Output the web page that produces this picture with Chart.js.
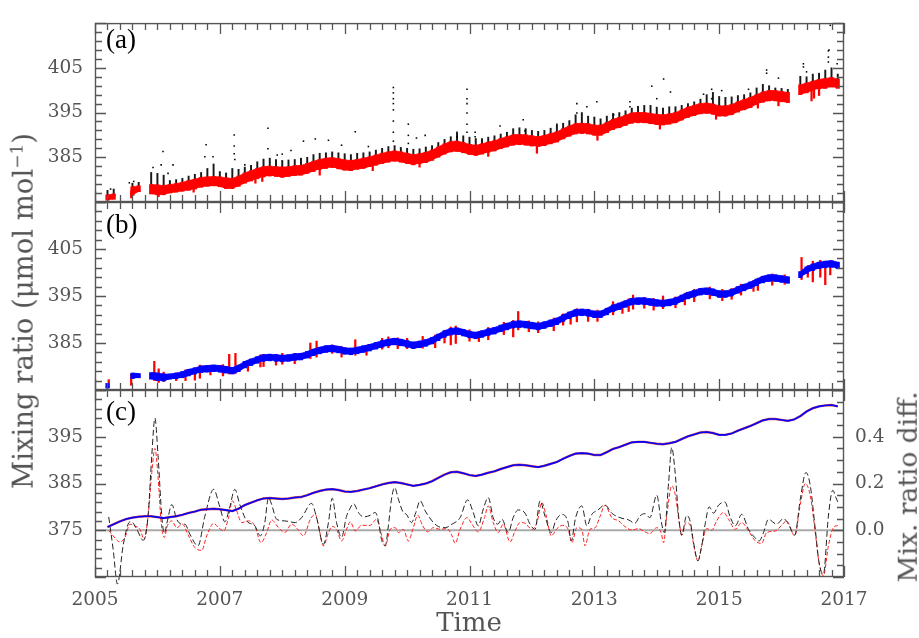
<!DOCTYPE html>
<html>
<head>
<meta charset="utf-8">
<script src="https://cdn.jsdelivr.net/npm/chart.js@4.4.1/dist/chart.umd.min.js"></script>
<style>
  body { margin: 0; background: #fff; }
  #wrap { position: relative; width: 919px; height: 638px; overflow: hidden; }
  #wrap canvas { position: absolute; left: 0; top: 0; }
  .vlab { position: absolute; transform: translate(-50%, -50%) rotate(-90deg); white-space: nowrap;
          font: 27.5px "DejaVu Serif"; line-height: 1; color: #555; }
  .vlab.r { font-size: 26.5px; }
  .vlab sup { font-size: 0.62em; }
  .hlab { position: absolute; transform: translate(-50%, -50%); white-space: nowrap;
          font: 26px "DejaVu Serif"; line-height: 1; color: #555; }
  .plab { position: absolute; font: 27px "Liberation Serif"; line-height: 1; color: #000; }
</style>
</head>
<body>
<div id="wrap">
  <canvas id="panelA" width="919" height="638"></canvas>
  <canvas id="panelB" width="919" height="638"></canvas>
  <canvas id="panelC" width="919" height="638"></canvas>
  <div class="plab" style="left:106px;top:26px">(a)</div>
  <div class="plab" style="left:106px;top:211px">(b)</div>
  <div class="plab" style="left:106px;top:398px">(c)</div>
  <div class="vlab" style="left:23px;top:311px">Mixing ratio (μmol mol<sup>−1</sup>)</div>
  <div class="vlab r" style="left:908px;top:487px">Mix. ratio diff.</div>
  <div class="hlab" style="left:469px;top:622px">Time</div>
</div>
<script>
// tick labels
const xTickLabels = [2005, 2007, 2009, 2011, 2013, 2015, 2017];
const yTicksAB = [385, 395, 405];
const yTicksC = [375, 385, 395];
const diffTicks = [0.0, 0.2, 0.4];

// panel (a): [year, red low, red high, black top]
const bandA = [
  [2005.2,375.4,376.6,377.6],[2005.3,375.6,376.8,377.9],[2005.6,376.5,378.4,379.2],[2005.7,377.3,378.6,379.4],
  [2005.9,376.8,378.9,381.6],[2006.0,376.6,378.8,381.4],[2006.1,376.6,378.7,381.0],[2006.2,377.0,378.9,379.8],
  [2006.3,377.2,379.1,380.0],[2006.4,377.4,379.4,380.3],[2006.5,377.6,379.8,380.8],[2006.6,377.9,380.1,381.2],
  [2006.7,378.3,380.5,381.6],[2006.8,378.5,380.6,382.5],[2006.9,378.6,380.7,383.5],[2007.0,378.4,380.6,381.8],
  [2007.1,378.0,380.4,381.5],[2007.2,378.0,380.3,382.5],[2007.3,378.5,380.8,382.3],[2007.4,379.2,381.5,382.8],
  [2007.5,379.7,382.0,383.2],[2007.6,380.2,382.5,384.0],[2007.7,380.6,382.9,384.6],[2007.8,380.8,383.0,384.8],
  [2007.9,380.7,382.9,384.5],[2008.0,380.5,382.8,384.3],[2008.1,380.7,382.9,384.4],[2008.2,380.9,383.1,384.5],
  [2008.3,381.0,383.2,384.8],[2008.4,381.4,383.6,385.0],[2008.5,381.8,384.1,385.6],[2008.6,382.3,384.5,385.9],
  [2008.7,382.5,384.8,386.0],[2008.8,382.7,384.9,386.2],[2008.9,382.4,384.7,386.0],[2009.0,382.1,384.4,385.8],
  [2009.1,382.0,384.3,385.6],[2009.2,382.3,384.5,385.9],[2009.3,382.5,384.8,386.0],[2009.4,382.9,385.1,386.2],
  [2009.5,383.2,385.5,386.6],[2009.6,383.6,385.9,387.0],[2009.7,383.9,386.2,387.4],[2009.8,384.1,386.4,387.6],
  [2009.9,383.9,386.2,387.2],[2010.0,383.6,385.9,387.0],[2010.1,383.3,385.6,386.8],[2010.2,383.6,385.8,386.9],
  [2010.3,383.8,386.1,387.3],[2010.4,384.3,386.6,387.6],[2010.5,385.0,387.3,388.3],[2010.6,385.7,388.0,389.0],
  [2010.7,386.2,388.5,389.6],[2010.8,386.3,388.6,390.4],[2010.9,386.0,388.3,389.8],[2011.0,385.6,387.9,389.5],
  [2011.1,385.4,387.7,389.2],[2011.2,385.7,388.0,389.2],[2011.3,386.1,388.4,389.5],[2011.4,386.4,388.7,389.8],
  [2011.5,386.9,389.2,390.2],[2011.6,387.3,389.6,390.6],[2011.7,387.7,390.0,391.4],[2011.8,387.8,390.1,391.6],
  [2011.9,387.7,390.0,391.4],[2012.0,387.5,389.8,391.0],[2012.1,387.4,389.6,390.8],[2012.2,387.6,389.9,391.0],
  [2012.3,388.0,390.3,391.5],[2012.4,388.4,390.7,392.2],[2012.5,389.1,391.4,392.6],[2012.6,389.7,392.0,393.2],
  [2012.7,390.2,392.5,394.5],[2012.8,390.3,392.6,395.0],[2012.9,390.2,392.5,394.2],[2013.0,389.9,392.2,394.0],
  [2013.1,389.9,392.2,393.6],[2013.2,390.5,392.8,394.2],[2013.3,391.2,393.5,394.8],[2013.4,391.6,393.9,395.0],
  [2013.5,392.1,394.4,395.4],[2013.6,392.6,394.9,396.0],[2013.7,392.7,395.0,396.4],[2013.8,392.7,395.0,396.6],
  [2013.9,392.5,394.8,396.6],[2014.0,392.3,394.6,396.2],[2014.1,392.2,394.5,396.0],[2014.2,392.4,394.7,396.3],
  [2014.3,392.7,395.0,396.3],[2014.4,393.3,395.6,396.6],[2014.5,393.9,396.2,397.0],[2014.6,394.3,396.6,397.4],
  [2014.7,394.7,397.0,398.0],[2014.8,394.8,397.1,399.0],[2014.9,394.6,396.9,399.5],[2015.0,394.2,396.5,398.6],
  [2015.1,394.2,396.5,398.4],[2015.2,394.5,396.8,398.5],[2015.3,395.1,397.4,398.8],[2015.4,395.6,397.9,399.0],
  [2015.5,396.1,398.4,399.4],[2015.6,396.8,399.0,400.5],[2015.7,397.3,399.6,401.3],[2015.8,397.6,399.9,401.0],
  [2015.9,397.6,399.9,400.5],[2016.0,397.4,399.7,400.4],[2016.1,397.2,399.5,400.2],[2016.3,399.0,401.2,403.1],
  [2016.4,399.4,401.6,403.0],[2016.5,399.9,402.0,403.6],[2016.6,400.3,402.4,403.8],[2016.7,400.4,402.6,404.5],
  [2016.8,400.7,402.8,405.0],[2016.9,400.4,402.5,403.6]
];
// panel (a): downward red excursions [year, low, high]
const redSpikesA = [
  [2005.58,375.9,377.5],[2006.02,376.2,377.5],[2006.58,377.2,378.5],[2007.57,379.2,380.8],[2007.68,379.6,381.0],
  [2008.6,381.0,382.8],[2009.45,382.0,383.5],[2010.2,382.8,384.2],[2011.3,385.2,386.5],[2012.08,385.9,388.0],
  [2013.05,388.8,390.3],[2014.05,391.3,392.8],[2014.95,393.5,395.0],[2015.62,396.0,397.5],[2015.95,396.5,398.0],
  [2016.48,397.6,400.5],[2016.52,398.2,400.5],[2016.6,398.8,400.6]
];
// panel (a): isolated black points [year, value]
const dotsA = [
  [2005.25,377.9],[2005.55,379.3],[2005.62,379.6],[2005.93,382.7],[2006.06,383.3],[2006.09,386.3],[2006.17,381.4],
  [2006.25,383.3],[2006.76,385.1],[2006.78,387.8],[2006.89,385.1],[2007.23,390.0],[2007.23,387.5],[2007.23,385.8],
  [2007.24,384.5],[2007.40,383.3],[2007.77,391.5],[2007.77,386.9],[2007.92,385.5],[2008.0,385.7],[2008.14,386.5],
  [2008.34,388.6],[2008.53,389.1],[2008.74,388.8],[2008.95,387.7],[2009.17,390.7],[2009.38,387.4],
  [2009.78,400.6],[2009.78,399.4],[2009.78,398.1],[2009.78,397.0],[2009.78,395.6],[2009.78,393.1],[2009.78,390.6],
  [2009.78,388.6],[2010.02,392.4],[2010.02,389.9],[2010.02,388.1],[2010.15,389.3],[2010.29,389.9],[2010.80,390.6],
  [2010.80,389.5],[2010.96,400.2],[2010.96,398.1],[2010.96,397.0],[2010.96,394.9],[2010.96,392.4],[2010.96,390.6],
  [2011.09,390.6],[2011.09,389.6],[2011.49,392.0],[2011.86,393.4],[2011.89,390.9],[2012.40,392.4],[2012.72,397.0],
  [2012.72,394.9],[2012.88,396.3],[2013.04,397.4],[2013.31,394.5],[2013.57,397.4],[2013.57,396.3],[2013.92,400.9],
  [2014.0,398.1],[2014.11,402.5],[2014.22,399.6],[2014.75,399.1],[2014.88,400.2],[2014.88,398.1],[2015.04,399.9],
  [2015.47,400.2],[2015.76,404.5],[2015.76,403.8],[2015.95,402.7],[2016.35,405.9],[2016.35,405.2],[2016.40,404.1],
  [2016.75,408.8],[2016.75,407.4],[2016.75,406.3],[2016.76,409.0],[2016.78,414.5],[2016.89,405.9]
];

// panel (b): blue band [year, low, high]
const bandB = [
  [2005.2,375.4,376.4],[2005.6,377.4,378.6],[2005.7,377.6,378.5],[2005.9,377.3,378.7],[2006.0,377.0,378.6],
  [2006.1,376.9,378.4],[2006.2,377.3,378.4],[2006.3,377.4,378.6],[2006.4,377.6,378.9],[2006.5,378.0,379.4],
  [2006.6,378.4,379.7],[2006.7,378.7,380.1],[2006.8,378.8,380.2],[2006.9,378.9,380.3],[2007.0,378.8,380.2],
  [2007.1,378.6,380.0],[2007.2,378.4,379.8],[2007.3,378.9,380.3],[2007.4,379.7,381.1],[2007.5,380.2,381.6],
  [2007.6,380.7,382.1],[2007.7,381.1,382.5],[2007.8,381.2,382.6],[2007.9,381.1,382.5],[2008.0,381.0,382.4],
  [2008.1,381.1,382.5],[2008.2,381.3,382.7],[2008.3,381.4,382.8],[2008.4,381.8,383.2],[2008.5,382.3,383.7],
  [2008.6,382.7,384.1],[2008.7,383.0,384.4],[2008.8,383.1,384.5],[2008.9,382.9,384.3],[2009.0,382.6,384.0],
  [2009.1,382.5,383.9],[2009.2,382.7,384.1],[2009.3,383.0,384.4],[2009.4,383.3,384.7],[2009.5,383.7,385.1],
  [2009.6,384.1,385.5],[2009.7,384.4,385.8],[2009.8,384.6,386.0],[2009.9,384.4,385.8],[2010.0,384.1,385.5],
  [2010.1,383.8,385.2],[2010.2,384.0,385.4],[2010.3,384.3,385.7],[2010.4,384.8,386.2],[2010.5,385.5,386.9],
  [2010.6,386.2,387.6],[2010.7,386.7,388.1],[2010.8,386.8,388.2],[2010.9,386.5,387.9],[2011.0,386.1,387.5],
  [2011.1,385.9,387.3],[2011.2,386.2,387.6],[2011.3,386.6,388.0],[2011.4,386.9,388.3],[2011.5,387.4,388.8],
  [2011.6,387.8,389.2],[2011.7,388.2,389.6],[2011.8,388.3,389.7],[2011.9,388.2,389.6],[2012.0,388.0,389.4],
  [2012.1,387.8,389.2],[2012.2,388.1,389.5],[2012.3,388.5,389.9],[2012.4,388.9,390.3],[2012.5,389.6,391.0],
  [2012.6,390.2,391.6],[2012.7,390.7,392.1],[2012.8,390.8,392.2],[2012.9,390.7,392.1],[2013.0,390.4,391.8],
  [2013.1,390.4,391.8],[2013.2,391.0,392.4],[2013.3,391.7,393.1],[2013.4,392.1,393.5],[2013.5,392.6,394.0],
  [2013.6,393.1,394.5],[2013.7,393.2,394.6],[2013.8,393.2,394.6],[2013.9,393.0,394.4],[2014.0,392.8,394.2],
  [2014.1,392.7,394.1],[2014.2,392.9,394.3],[2014.3,393.2,394.6],[2014.4,393.8,395.2],[2014.5,394.4,395.8],
  [2014.6,394.8,396.2],[2014.7,395.2,396.6],[2014.8,395.3,396.7],[2014.9,395.1,396.5],[2015.0,394.7,396.1],
  [2015.1,394.7,396.1],[2015.2,395.0,396.4],[2015.3,395.6,397.0],[2015.4,396.1,397.5],[2015.5,396.6,398.0],
  [2015.6,397.2,398.6],[2015.7,397.8,399.2],[2015.8,398.1,399.5],[2015.9,398.1,399.5],[2016.0,397.9,399.3],
  [2016.1,397.7,399.1],[2016.3,398.9,400.2],[2016.4,399.8,401.2],[2016.5,400.4,401.8],[2016.6,400.8,402.2],
  [2016.7,401.0,402.4],[2016.8,401.1,402.5],[2016.9,400.8,402.2]
];
// panel (b): red excursions [year, low, high]
const redB = [
  [2005.22,375.5,377.2],[2005.58,376.0,378.3],[2005.95,377.0,381.1],[2006.02,376.6,379.5],[2006.1,376.8,378.8],
  [2006.3,377.0,378.6],[2006.45,377.0,379.3],[2006.6,377.1,379.7],[2006.68,377.5,380.3],[2006.85,378.2,380.2],
  [2007.05,378.0,380.4],[2007.15,378.4,382.6],[2007.25,378.5,382.8],[2007.45,379.0,381.2],[2007.65,379.9,382.5],
  [2007.7,380.0,382.6],[2007.9,380.3,382.6],[2008.0,380.5,382.8],[2008.2,380.6,382.8],[2008.45,381.7,385.0],
  [2008.55,382.0,385.4],[2008.8,382.8,384.6],[2008.95,382.0,384.3],[2009.17,382.4,385.7],[2009.35,382.4,384.5],
  [2009.6,383.7,386.0],[2009.7,384.0,386.3],[2009.85,383.8,386.1],[2010.0,383.8,386.0],[2010.25,383.9,386.4],
  [2010.45,384.0,386.7],[2010.6,385.0,387.7],[2010.7,384.6,388.4],[2010.78,384.9,388.6],[2011.0,385.4,387.8],
  [2011.15,385.3,387.5],[2011.3,385.7,388.3],[2011.55,386.8,389.4],[2011.7,386.3,389.8],[2011.78,387.8,391.7],
  [2011.95,387.4,389.7],[2012.1,387.2,389.5],[2012.35,387.6,390.3],[2012.5,388.8,391.2],[2012.62,389.0,391.6],
  [2012.72,389.5,392.3],[2012.9,389.6,392.2],[2013.05,389.6,392.0],[2013.3,391.0,393.8],[2013.45,391.3,393.8],
  [2013.55,391.7,394.4],[2013.62,392.2,395.2],[2013.8,392.4,394.7],[2013.95,392.0,394.5],[2014.1,392.3,395.0],
  [2014.3,392.5,394.8],[2014.45,393.1,395.6],[2014.6,393.8,396.4],[2014.85,394.4,396.9],[2015.05,394.0,396.4],
  [2015.2,394.3,396.6],[2015.35,395.2,397.5],[2015.55,396.0,398.3],[2015.62,396.2,398.8],[2015.85,397.3,399.7],
  [2016.05,397.5,399.5],[2016.32,398.5,403.2],[2016.42,399.0,401.5],[2016.5,398.0,402.4],[2016.62,399.0,402.6],
  [2016.7,397.4,402.2],[2016.78,399.5,402.5]
];

// panel (c): smooth trend [year, value]
const trendC = [
  [2005.2,375.7],[2005.3,376.3],[2005.4,376.9],[2005.5,377.4],[2005.6,377.7],[2005.7,377.9],[2005.8,378.0],
  [2005.9,378.0],[2006.0,377.8],[2006.1,377.6],[2006.2,377.8],[2006.3,378.0],[2006.4,378.3],[2006.5,378.7],
  [2006.6,379.0],[2006.7,379.4],[2006.8,379.5],[2006.9,379.6],[2007.0,379.5],[2007.1,379.3],[2007.2,379.1],
  [2007.3,379.6],[2007.4,380.4],[2007.5,380.9],[2007.6,381.4],[2007.7,381.8],[2007.8,381.9],[2007.9,381.8],
  [2008.0,381.7],[2008.1,381.8],[2008.2,382.0],[2008.3,382.1],[2008.4,382.5],[2008.5,383.0],[2008.6,383.4],
  [2008.7,383.7],[2008.8,383.8],[2008.9,383.6],[2009.0,383.3],[2009.1,383.2],[2009.2,383.4],[2009.3,383.7],
  [2009.4,384.0],[2009.5,384.4],[2009.6,384.8],[2009.7,385.1],[2009.8,385.3],[2009.9,385.1],[2010.0,384.8],
  [2010.1,384.5],[2010.2,384.7],[2010.3,385.0],[2010.4,385.5],[2010.5,386.2],[2010.6,386.9],[2010.7,387.4],
  [2010.8,387.5],[2010.9,387.2],[2011.0,386.8],[2011.1,386.6],[2011.2,386.9],[2011.3,387.3],[2011.4,387.6],
  [2011.5,388.1],[2011.6,388.5],[2011.7,388.9],[2011.8,389.0],[2011.9,388.9],[2012.0,388.7],[2012.1,388.5],
  [2012.2,388.8],[2012.3,389.2],[2012.4,389.6],[2012.5,390.3],[2012.6,390.9],[2012.7,391.4],[2012.8,391.5],
  [2012.9,391.4],[2013.0,391.1],[2013.1,391.1],[2013.2,391.7],[2013.3,392.4],[2013.4,392.8],[2013.5,393.3],
  [2013.6,393.8],[2013.7,393.9],[2013.8,393.9],[2013.9,393.7],[2014.0,393.5],[2014.1,393.4],[2014.2,393.6],
  [2014.3,393.9],[2014.4,394.5],[2014.5,395.1],[2014.6,395.5],[2014.7,395.9],[2014.8,396.0],[2014.9,395.8],
  [2015.0,395.4],[2015.1,395.4],[2015.2,395.7],[2015.3,396.3],[2015.4,396.8],[2015.5,397.3],[2015.6,397.9],
  [2015.7,398.5],[2015.8,398.8],[2015.9,398.8],[2016.0,398.6],[2016.1,398.4],[2016.2,398.7],[2016.3,399.4],
  [2016.4,400.4],[2016.5,401.1],[2016.6,401.5],[2016.7,401.7],[2016.8,401.8],[2016.9,401.5]
];
// panel (c): differences, right axis [year, diff]
const diffBlack = [
  [2005.22,0.057],[2005.29,-0.08],[2005.36,-0.23],[2005.45,-0.067],[2005.53,0.026],[2005.58,0.037],[2005.67,0.004],
  [2005.77,-0.043],[2005.85,0.06],[2005.91,0.32],[2005.96,0.48],[2006.01,0.32],[2006.07,0.06],[2006.11,-0.013],
  [2006.16,0.04],[2006.23,0.11],[2006.31,0.047],[2006.39,0.026],[2006.44,0.026],[2006.52,-0.017],[2006.65,-0.067],
  [2006.76,0.06],[2006.90,0.175],[2007.00,0.10],[2007.08,0.036],[2007.16,0.10],[2007.24,0.175],[2007.32,0.11],
  [2007.43,0.04],[2007.56,0.019],[2007.65,-0.024],[2007.72,0.033],[2007.78,0.14],[2007.83,0.11],[2007.91,0.047],
  [2008.04,0.04],[2008.21,0.033],[2008.31,0.054],[2008.47,0.115],[2008.55,0.054],[2008.66,-0.06],[2008.74,0.033],
  [2008.80,0.137],[2008.87,0.033],[2008.95,-0.03],[2009.03,0.06],[2009.08,0.09],[2009.14,0.114],[2009.22,0.076],
  [2009.30,0.057],[2009.41,0.064],[2009.49,0.076],[2009.54,0.04],[2009.59,-0.039],[2009.65,-0.067],[2009.70,0.019],
  [2009.75,0.133],[2009.80,0.183],[2009.86,0.133],[2009.94,0.076],[2009.99,0.068],[2010.07,0.033],[2010.14,0.076],
  [2010.21,0.126],[2010.29,0.083],[2010.40,0.04],[2010.50,0.016],[2010.61,0.011],[2010.72,0.026],[2010.85,0.054],
  [2010.97,0.13],[2011.06,0.076],[2011.14,0.019],[2011.22,0.09],[2011.30,0.14],[2011.38,0.054],[2011.45,0.026],
  [2011.52,0.047],[2011.62,-0.01],[2011.70,0.054],[2011.78,0.087],[2011.89,0.073],[2011.97,0.026],[2012.05,0.004],
  [2012.13,0.126],[2012.21,0.06],[2012.31,-0.01],[2012.38,0.04],[2012.48,0.068],[2012.58,0.033],[2012.63,-0.046],
  [2012.70,0.054],[2012.80,0.104],[2012.88,0.019],[2012.96,0.068],[2013.05,0.085],[2013.17,0.108],[2013.28,0.073],
  [2013.41,0.054],[2013.55,0.044],[2013.65,0.03],[2013.73,0.061],[2013.81,0.071],[2013.89,0.054],[2014.00,0.15],
  [2014.07,0.04],[2014.12,-0.01],[2014.19,0.204],[2014.24,0.354],[2014.29,0.26],[2014.35,0.061],[2014.40,-0.021],
  [2014.48,0.064],[2014.54,0.033],[2014.59,-0.053],[2014.66,-0.131],[2014.72,-0.067],[2014.78,0.033],[2014.84,0.10],
  [2014.91,0.073],[2014.99,0.107],[2015.09,0.121],[2015.18,0.054],[2015.26,0.019],[2015.36,0.068],[2015.47,0.004],
  [2015.57,-0.031],[2015.64,-0.046],[2015.71,-0.01],[2015.79,0.047],[2015.92,0.026],[2016.03,0.05],[2016.11,0.026],
  [2016.21,-0.021],[2016.30,0.133],[2016.39,0.247],[2016.46,0.19],[2016.54,0.004],[2016.60,-0.138],[2016.67,-0.188],
  [2016.75,0.061],[2016.82,0.171],[2016.87,0.14],[2016.91,0.116]
];
const diffRed = [
  [2005.22,0.0],[2005.29,-0.024],[2005.40,-0.05],[2005.48,-0.031],[2005.56,0.026],[2005.63,0.019],[2005.72,0.004],
  [2005.79,-0.039],[2005.85,0.06],[2005.91,0.247],[2005.96,0.35],[2006.01,0.23],[2006.06,0.033],[2006.11,-0.031],
  [2006.16,0.019],[2006.23,0.04],[2006.31,0.011],[2006.40,0.026],[2006.50,-0.024],[2006.60,-0.074],[2006.71,-0.086],
  [2006.79,-0.024],[2006.90,0.029],[2006.98,0.011],[2007.06,-0.003],[2007.14,0.054],[2007.20,0.126],[2007.27,0.083],
  [2007.35,0.033],[2007.46,0.04],[2007.56,0.019],[2007.66,-0.053],[2007.75,-0.01],[2007.83,0.044],[2007.94,0.011],
  [2008.04,-0.01],[2008.15,0.026],[2008.25,0.004],[2008.34,-0.024],[2008.45,0.047],[2008.53,0.068],[2008.58,0.019],
  [2008.66,-0.067],[2008.74,-0.01],[2008.80,0.016],[2008.87,0.004],[2008.95,-0.046],[2009.03,0.004],[2009.09,0.036],
  [2009.17,-0.003],[2009.27,0.021],[2009.41,0.021],[2009.51,0.047],[2009.58,-0.01],[2009.65,-0.067],[2009.73,0.004],
  [2009.81,0.011],[2009.86,-0.01],[2009.94,0.004],[2010.02,-0.046],[2010.10,0.011],[2010.17,0.064],[2010.25,0.019],
  [2010.33,-0.007],[2010.42,0.011],[2010.53,0.004],[2010.64,0.007],[2010.72,-0.024],[2010.77,-0.056],[2010.85,0.004],
  [2010.96,0.054],[2011.04,0.026],[2011.14,-0.007],[2011.24,0.054],[2011.30,0.104],[2011.38,0.033],[2011.46,-0.01],
  [2011.54,0.026],[2011.65,-0.05],[2011.73,-0.003],[2011.81,0.033],[2011.89,0.03],[2012.00,0.004],[2012.08,0.033],
  [2012.16,0.118],[2012.23,0.061],[2012.31,-0.024],[2012.40,0.007],[2012.49,0.021],[2012.58,0.004],[2012.64,-0.053],
  [2012.72,0.011],[2012.80,0.004],[2012.85,-0.067],[2012.93,0.004],[2013.01,0.01],[2013.09,0.058],[2013.17,0.107],
  [2013.28,0.054],[2013.39,0.04],[2013.49,0.016],[2013.60,0.001],[2013.71,0.007],[2013.81,-0.007],[2013.89,-0.014],
  [2014.00,0.011],[2014.07,-0.01],[2014.11,-0.053],[2014.16,0.061],[2014.24,0.19],[2014.30,0.147],[2014.36,0.033],
  [2014.40,-0.021],[2014.47,0.033],[2014.54,0.019],[2014.59,-0.06],[2014.66,-0.131],[2014.72,-0.067],[2014.80,0.007],
  [2014.88,0.0],[2014.96,0.04],[2015.07,0.076],[2015.15,0.047],[2015.26,0.004],[2015.36,0.033],[2015.47,-0.003],
  [2015.58,-0.046],[2015.68,-0.056],[2015.76,-0.01],[2015.90,-0.003],[2016.00,0.021],[2016.08,0.04],[2016.21,-0.024],
  [2016.30,0.111],[2016.38,0.2],[2016.46,0.147],[2016.54,-0.01],[2016.60,-0.138],[2016.67,-0.195],[2016.75,-0.067],
  [2016.83,0.011],[2016.91,0.021]
];
const zeroLine = [[2005, 0], [2017, 0]];

Chart.defaults.font.family = "DejaVu Serif";
Chart.defaults.color = "#555";

const xy = (rows, i = 1) => rows.map((r) => ({ x: r[0], y: r[i] }));
const range = (rows, a, b) => rows.map((r) => ({ x: r[0], y: [r[a], r[b]] }));
// same as xy, but breaks the line where the record has a data gap
const xyGaps = (rows, i) => {
  const out = [];
  rows.forEach((r, k) => {
    if (k && r[0] - rows[k - 1][0] > 0.15) out.push({ x: (r[0] + rows[k - 1][0]) / 2, y: null });
    out.push({ x: r[0], y: r[i] });
  });
  return out;
};
// filled band between two columns, plus short bars so isolated samples still show
const ribbon = (rows, lo, hi, color, order) => [
  { type: "line", data: xyGaps(rows, lo), borderWidth: 0, pointRadius: 0, tension: 0.25, fill: false, order },
  { type: "line", data: xyGaps(rows, hi), borderWidth: 0.8, borderColor: color, pointRadius: 0, tension: 0.25,
    backgroundColor: color, fill: "-1", order },
  { data: range(rows, lo, hi), backgroundColor: color, barThickness: 3.5, grouped: false, order }
];

// box with inward ticks drawn from the chart's own scales
const frameTicks = {
  id: "frameTicks",
  afterDatasetsDraw(chart, args, o) {
    const { ctx, chartArea: a, scales } = chart;
    ctx.save();
    ctx.strokeStyle = "#555";
    ctx.lineWidth = 1.3;
    ctx.beginPath();
    const sx = scales.x;
    for (let i = 0; i <= 60; i++) {
      const p = Math.round(sx.getPixelForValue(2005 + i * 0.2)) + 0.5;
      const len = i % 10 === 0 ? 11 : 7;
      ctx.moveTo(p, a.top); ctx.lineTo(p, a.top + len);
      ctx.moveTo(p, a.bottom); ctx.lineTo(p, a.bottom - len);
    }
    const yl = scales.y;
    for (let i = 0; i <= 20; i++) {
      const v = yl.min + i * 2;
      const p = Math.round(yl.getPixelForValue(v)) + 0.5;
      const len = v % 10 === 5 ? 11 : 7;
      ctx.moveTo(a.left, p); ctx.lineTo(a.left + len, p);
      if (!o.rightDiff) { ctx.moveTo(a.right, p); ctx.lineTo(a.right - len, p); }
    }
    if (o.rightDiff) {
      const yr = scales.yr;
      for (let i = 0; i <= 16; i++) {
        const p = Math.round(yr.getPixelForValue(-0.2 + i * 0.05)) + 0.5;
        const len = i % 4 === 0 ? 11 : 7;
        ctx.moveTo(a.right, p); ctx.lineTo(a.right - len, p);
      }
    }
    ctx.stroke();
    ctx.lineWidth = 1.4;
    ctx.strokeRect(a.left + 0.5, a.top + 0.5, a.right - a.left - 1, a.bottom - a.top - 1);
    ctx.restore();
  }
};

const tickFont = { size: 18.5 };
const leftAxis = (min, max, labels) => ({
  type: "linear", position: "left", min, max,
  afterFit(s) { s.width = 95; },
  afterBuildTicks(s) { s.ticks = labels.map((v) => ({ value: v })); },
  grid: { display: false, drawTicks: false, tickLength: 0 },
  border: { display: false },
  ticks: { padding: 12, color: "#555", font: tickFont, callback: (v) => String(v) }
});
const rightBlank = (min, max) => ({
  type: "linear", position: "right", min, max,
  afterFit(s) { s.width = 75; },
  grid: { display: false, drawTicks: false },
  border: { display: false },
  ticks: { display: false }
});
const hiddenX = { type: "linear", min: 2005, max: 2017, offset: false, display: false };
const common = {
  responsive: false, animation: false, events: [],
  plugins: { legend: { display: false }, tooltip: { enabled: false } }
};

new Chart(document.getElementById("panelA"), {
  type: "bar",
  data: {
    datasets: [
      { type: "scatter", data: xy(dotsA), backgroundColor: "#000", borderWidth: 0,
        pointStyle: "rect", pointRadius: 1.1, order: 1 },
      ...ribbon(bandA, 1, 2, "#ff0000", 2),
      { data: range(redSpikesA, 1, 2), backgroundColor: "#ff0000", barThickness: 1.6, grouped: false, order: 3 },
      { data: range(bandA, 2, 3), backgroundColor: "#1a1a1a", barThickness: 1.3, grouped: false, order: 4 }
    ]
  },
  options: {
    ...common,
    layout: { padding: { top: 14, bottom: 436, left: 0, right: 0 } },
    scales: { x: hiddenX, y: leftAxis(375, 415, yTicksAB), yr: rightBlank(375, 415) },
    plugins: { ...common.plugins, frameTicks: {} }
  },
  plugins: [frameTicks]
});

new Chart(document.getElementById("panelB"), {
  type: "bar",
  data: {
    datasets: [
      ...ribbon(bandB, 1, 2, "#0000ff", 1),
      { data: range(redB, 1, 2), backgroundColor: "#ff0000", barThickness: 1.6, grouped: false, order: 2 }
    ]
  },
  options: {
    ...common,
    layout: { padding: { top: 202, bottom: 248, left: 0, right: 0 } },
    scales: { x: hiddenX, y: leftAxis(375, 415, yTicksAB), yr: rightBlank(375, 415) },
    plugins: { ...common.plugins, frameTicks: {} }
  },
  plugins: [frameTicks]
});

new Chart(document.getElementById("panelC"), {
  type: "line",
  data: {
    datasets: [
      { data: xy(trendC), yAxisID: "y", borderColor: "#0000ff", borderWidth: 1.6, order: 1 },
      { data: xy(trendC), yAxisID: "y", borderColor: "rgba(200,0,0,0.7)", borderWidth: 2.4, order: 2 },
      { data: xy(diffBlack), yAxisID: "yr", borderColor: "#222", borderWidth: 1, borderDash: [6, 3],
        cubicInterpolationMode: "monotone", clip: false, order: 3 },
      { data: xy(diffRed), yAxisID: "yr", borderColor: "#ff2020", borderWidth: 1, borderDash: [4, 2],
        cubicInterpolationMode: "monotone", order: 4 },
      { data: xy(zeroLine), yAxisID: "yr", borderColor: "#aaa", borderWidth: 2, order: 5 }
    ]
  },
  options: {
    ...common,
    elements: { point: { radius: 0 } },
    layout: { padding: { top: 390, bottom: 0, left: 0, right: 0 } },
    scales: {
      x: {
        type: "linear", min: 2005, max: 2017, offset: false,
        afterFit(s) { s.height = 61; },
        afterBuildTicks(s) { s.ticks = xTickLabels.map((v) => ({ value: v })); },
        grid: { display: false, drawTicks: false, tickLength: 0 },
        border: { display: false },
        ticks: { padding: 12, color: "#555", font: tickFont, maxRotation: 0, autoSkip: false, callback: (v) => String(v) }
      },
      y: leftAxis(365, 405, yTicksC),
      yr: {
        type: "linear", position: "right", min: -0.2, max: 0.6,
        afterFit(s) { s.width = 75; },
        afterBuildTicks(s) { s.ticks = diffTicks.map((v) => ({ value: v })); },
        grid: { display: false, drawTicks: false, tickLength: 0 },
        border: { display: false },
        ticks: { padding: 11, color: "#555", font: tickFont, callback: (v) => Number(v).toFixed(1) }
      }
    },
    plugins: { ...common.plugins, frameTicks: { rightDiff: true } }
  },
  plugins: [frameTicks]
});
</script>
</body>
</html>
